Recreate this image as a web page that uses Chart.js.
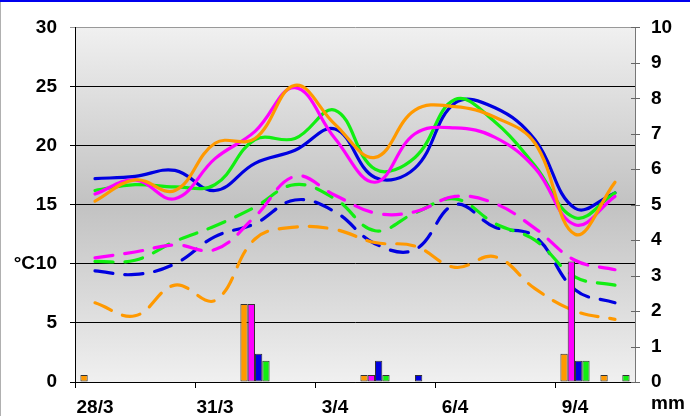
<!DOCTYPE html>
<html>
<head>
<meta charset="utf-8">
<script src="https://cdn.jsdelivr.net/npm/chart.js@4.4.0/dist/chart.umd.min.js"></script>
<style>
html, body { margin: 0; padding: 0; background: #fff; }
#wrap { width: 690px; height: 416px; }
</style>
</head>
<body>
<div id="wrap"><canvas id="chart" width="690" height="416"></canvas></div>
<script>
// days
var dates = ['28/3', '29/3', '30/3', '31/3', '1/4', '2/4', '3/4', '4/4', '5/4', '6/4', '7/4', '8/4', '9/4', '10/4'];

// max temperatures (solid), °C
var maxOrange  = [15.3, 17.1, 16.2, 20.2, 20.6, 25.1, 21.8, 19.0, 23.0, 23.3, 22.4, 20.2, 12.5, 16.9];
var maxMagenta = [15.9, 17.1, 15.5, 18.9, 21.2, 24.9, 20.6, 16.9, 21.0, 21.5, 20.7, 18.1, 13.3, 15.7];
var maxGreen   = [16.2, 16.7, 16.5, 16.7, 20.5, 20.6, 23.0, 18.0, 19.0, 23.9, 22.0, 18.3, 13.9, 16.0];
var maxBlue    = [17.2, 17.4, 17.9, 16.2, 18.5, 19.6, 21.4, 17.3, 18.1, 23.6, 23.2, 20.5, 14.7, 16.0];

// min temperatures (dashed), °C
var minOrange  = [6.7, 5.6, 8.2, 6.9, 12.1, 13.1, 12.9, 11.8, 11.5, 9.7, 10.6, 7.9, 6.0, 5.3];
var minMagenta = [10.5, 11.0, 11.6, 11.2, 14.0, 17.4, 15.8, 14.3, 14.4, 15.7, 15.1, 13.0, 10.3, 9.5];
var minGreen   = [10.2, 10.3, 11.9, 13.2, 14.8, 16.7, 15.5, 12.8, 14.3, 15.5, 13.4, 12.0, 8.9, 8.2];
var minBlue    = [9.4, 9.1, 10.0, 12.3, 13.4, 15.4, 14.4, 11.7, 11.2, 15.0, 13.1, 12.3, 7.8, 6.7];

// precipitation, mm
var rainOrange  = [0.2, null, null, null, 2.2, null, null, 0.2, null, null, null, null, 0.8, 0.2];
var rainMagenta = [null, null, null, null, 2.2, null, null, 0.2, null, null, null, null, 3.4, null];
var rainBlue    = [null, null, null, null, 0.8, null, null, 0.6, 0.2, null, null, null, 0.6, null];
var rainGreen   = [null, null, null, null, 0.6, null, null, 0.2, null, null, null, null, 0.6, 0.2];

var ORANGE = '#ff9900', MAGENTA = '#ff00ff', BLUE = '#0000e0', GREEN = '#11ee11';
var FONT = { family: '"Liberation Sans", Arial, sans-serif', size: 19, weight: 'bold' };

function tempLine(data, color, dashed) {
  return {
    type: 'line',
    data: data,
    yAxisID: 'y',
    borderColor: color,
    backgroundColor: color,
    borderWidth: 3.2,
    borderDash: dashed ? [18, 12] : [],
    borderCapStyle: 'round',
    pointRadius: 0,
    tension: 0.4,
    fill: false,
    order: 1
  };
}

function rainBar(data, color) {
  return {
    type: 'bar',
    data: data,
    yAxisID: 'y2',
    backgroundColor: color,
    borderColor: '#333',
    borderWidth: 1,
    borderSkipped: false,
    categoryPercentage: 0.73,
    barPercentage: 1.0,
    order: 0
  };
}

var decor = {
  id: 'decor',
  beforeDraw: function(chart) {
    var c = chart.ctx, a = chart.chartArea;
    c.save();
    c.fillStyle = '#fff';
    c.fillRect(0, 0, chart.width, chart.height);
    c.fillStyle = '#0000ee';
    c.fillRect(0, 0, chart.width, 2);
    c.fillStyle = '#b0b0b0';
    c.fillRect(0, 2, 1, chart.height - 2);
    var g = c.createLinearGradient(0, a.top, 0, a.bottom);
    g.addColorStop(0, '#f0f0f0');
    g.addColorStop(0.5, '#c2c2c2');
    g.addColorStop(1, '#f0f0f0');
    c.fillStyle = g;
    c.fillRect(a.left, a.top, a.right - a.left, a.bottom - a.top);
    c.restore();
  },
  afterDraw: function(chart) {
    var c = chart.ctx, y2 = chart.scales.y2, y = chart.scales.y;
    c.save();
    c.strokeStyle = '#666';
    c.lineWidth = 1;
    for (var v = 0; v <= 10; v++) {
      var py = Math.round(y2.getPixelForValue(v)) + 0.5;
      c.beginPath();
      c.moveTo(y2.left - 4, py);
      c.lineTo(y2.left + 5, py);
      c.stroke();
    }
    c.fillStyle = '#000';
    c.font = 'bold 19px "Liberation Sans", Arial, sans-serif';
    c.textAlign = 'right';
    c.textBaseline = 'middle';
    c.fillText('°C', 35, y.getPixelForValue(10));
    c.textAlign = 'left';
    c.textBaseline = 'alphabetic';
    c.fillText('mm', 651, 409);
    c.restore();
  }
};

new Chart(document.getElementById('chart'), {
  type: 'bar',
  data: {
    labels: dates,
    datasets: [
      tempLine(maxOrange, ORANGE, false),
      tempLine(maxMagenta, MAGENTA, false),
      tempLine(maxGreen, GREEN, false),
      tempLine(maxBlue, BLUE, false),
      tempLine(minOrange, ORANGE, true),
      tempLine(minMagenta, MAGENTA, true),
      tempLine(minGreen, GREEN, true),
      tempLine(minBlue, BLUE, true),
      rainBar(rainOrange, ORANGE),
      rainBar(rainMagenta, MAGENTA),
      rainBar(rainBlue, BLUE),
      rainBar(rainGreen, GREEN)
    ]
  },
  options: {
    responsive: false,
    animation: false,
    devicePixelRatio: 1,
    layout: { padding: { top: 27, left: 0, right: 0, bottom: 0 } },
    plugins: {
      legend: { display: false },
      tooltip: { enabled: false }
    },
    scales: {
      x: {
        offset: true,
        afterFit: function(s) { s.height = 34; },
        grid: {
          offset: true,
          drawOnChartArea: false,
          tickLength: 6,
          color: function(ctx) { return ctx.index % 3 === 0 ? '#000' : 'rgba(0,0,0,0)'; }
        },
        border: { color: '#000', width: 1 },
        ticks: {
          autoSkip: false,
          maxRotation: 0,
          padding: 8,
          color: '#000',
          font: FONT,
          callback: function(val, i) { return i % 3 === 0 ? dates[i] : ''; }
        }
      },
      y: {
        position: 'left',
        min: 0,
        max: 30,
        afterFit: function(s) { s.width = 75; },
        grid: {
          tickLength: 5,
          color: function(ctx) { return ctx.tick && ctx.tick.value === 30 ? '#999' : '#000'; }
        },
        border: { color: '#000', width: 1 },
        ticks: { stepSize: 5, padding: 13, color: '#000', font: FONT }
      },
      y2: {
        position: 'right',
        min: 0,
        max: 10,
        afterFit: function(s) { s.width = 55; },
        grid: { drawOnChartArea: false, drawTicks: false },
        border: { color: '#777', width: 1 },
        ticks: { stepSize: 1, padding: 16, color: '#000', font: FONT }
      }
    }
  },
  plugins: [decor]
});
</script>
</body>
</html>
